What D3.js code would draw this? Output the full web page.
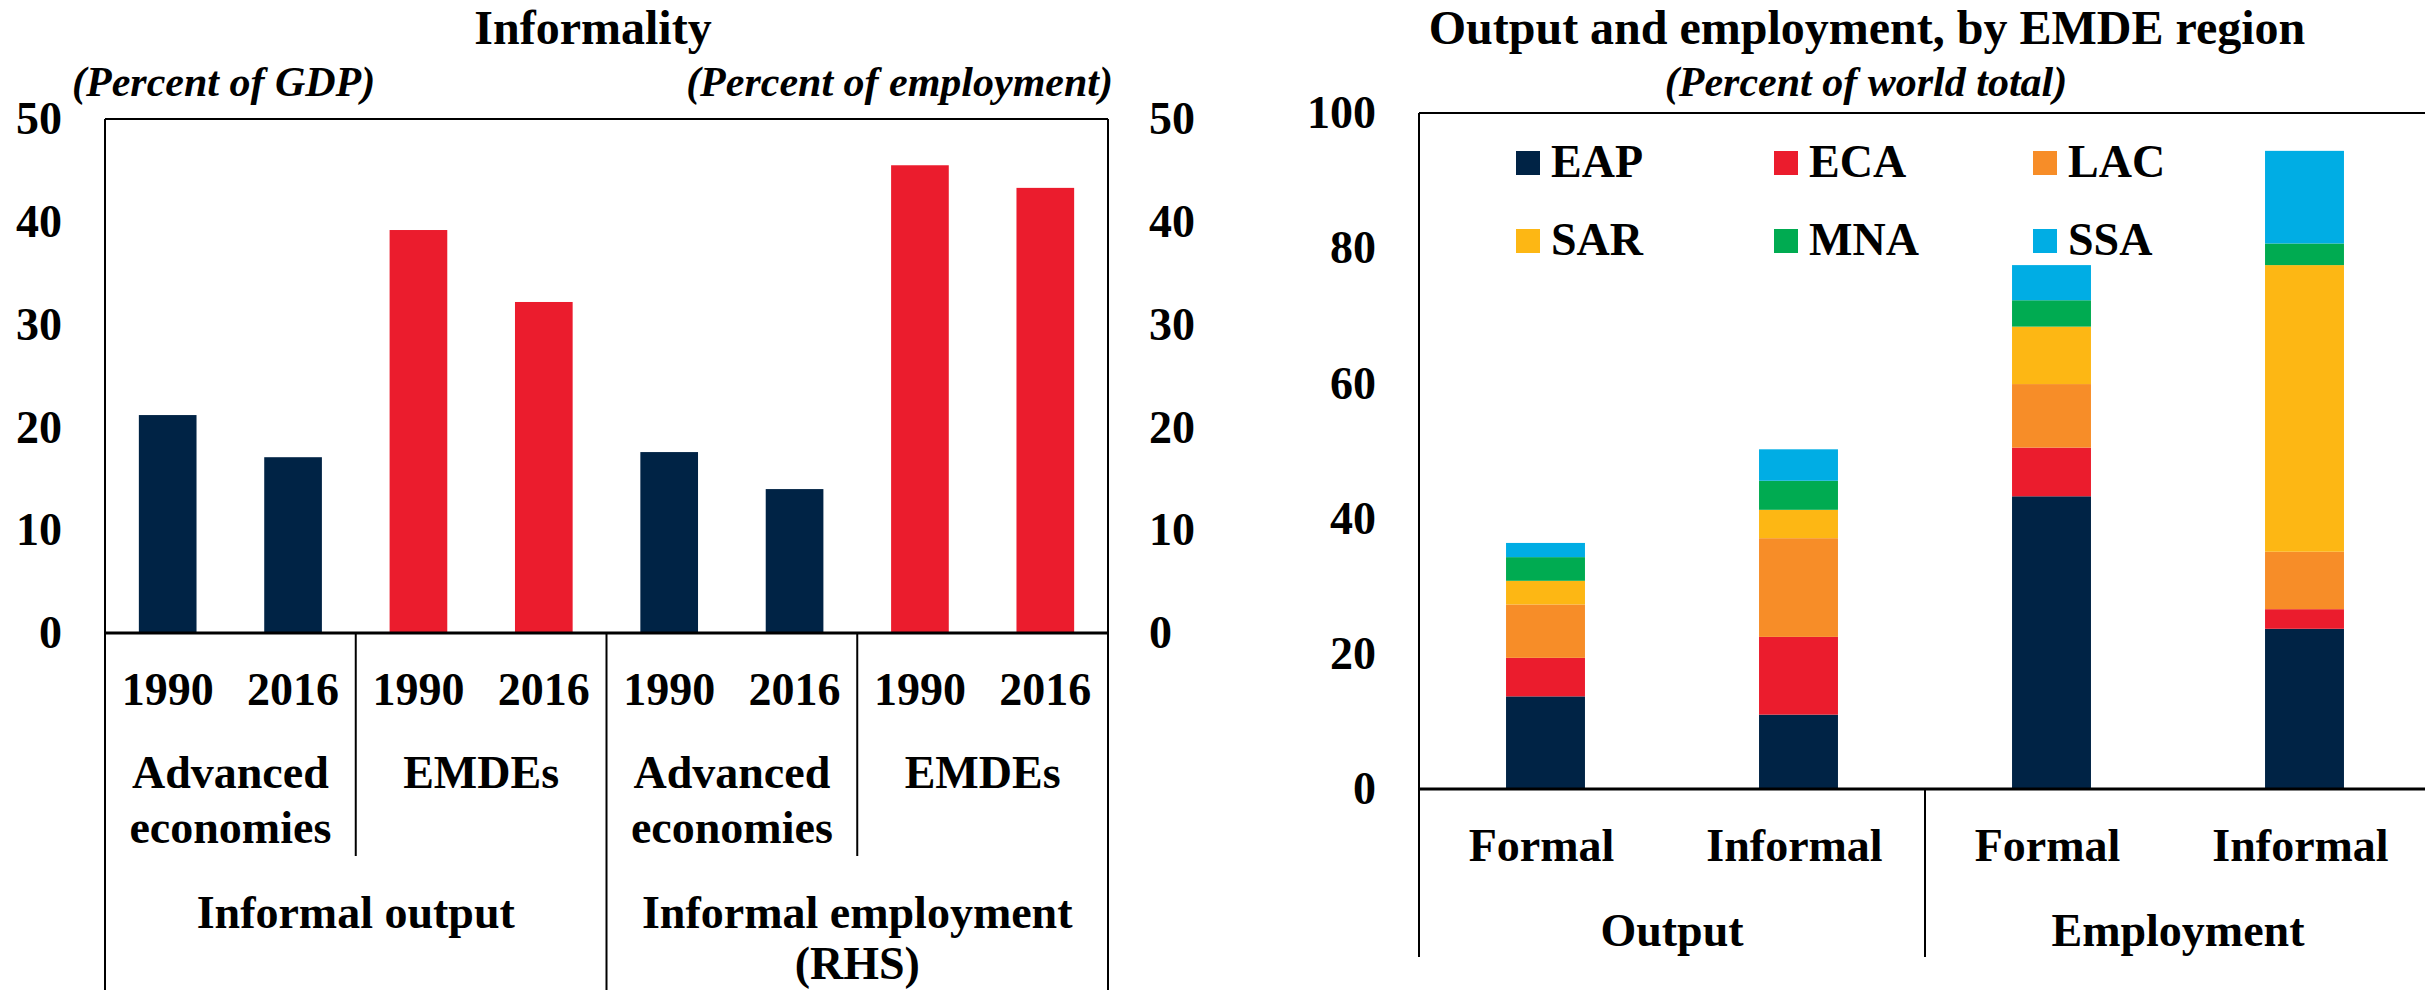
<!DOCTYPE html>
<html>
<head>
<meta charset="utf-8">
<script src="https://cdn.jsdelivr.net/npm/d3@7"></script>
<style>
  html, body { margin: 0; padding: 0; background: #fff; }
  svg { display: block; }
  text { font-family: "Liberation Serif", "Times New Roman", serif; font-weight: bold; fill: #000; }
</style>
</head>
<body>
<svg id="chart" width="2425" height="990"></svg>
<script>
// ---------- Data: left panel (Informality) ----------
const leftBarKeys = ["out-ae-1990", "out-ae-2016", "out-em-1990", "out-em-2016",
                     "emp-ae-1990", "emp-ae-2016", "emp-em-1990", "emp-em-2016"];
const leftYears = ["1990", "2016", "1990", "2016", "1990", "2016", "1990", "2016"];
const leftValues = [21.2, 17.1, 39.2, 32.2, 17.6, 14.0, 45.5, 43.3];
const leftBarGroup = ["ae", "ae", "em", "em", "ae", "ae", "em", "em"];
const leftSubGroups = [["Advanced", "economies"], ["EMDEs"], ["Advanced", "economies"], ["EMDEs"]];
const leftMainGroups = [["Informal output"], ["Informal employment", "(RHS)"]];
const leftTicks = [0, 10, 20, 30, 40, 50];

// ---------- Data: right panel (Output and employment, by EMDE region) ----------
const rightKeys = ["out-formal", "out-informal", "emp-formal", "emp-informal"];
const rightCategories = ["Formal", "Informal", "Formal", "Informal"];
const rightGroups = ["Output", "Employment"];
const regions = ["EAP", "ECA", "LAC", "SAR", "MNA", "SSA"];
const EAP = [13.7, 11.0, 43.3, 23.7];
const ECA = [5.7, 11.5, 7.2, 2.9];
const LAC = [7.9, 14.6, 9.4, 8.5];
const SAR = [3.5, 4.2, 8.5, 42.4];
const MNA = [3.5, 4.3, 3.9, 3.2];
const SSA = [2.1, 4.65, 5.2, 13.7];
const rightTicks = [0, 20, 40, 60, 80, 100];

const navy = "#002345", red = "#EB1C2D";
const regionColors = ["#002345", "#EB1C2D", "#F78D28", "#FDB714", "#00AB51", "#00ADE4"];

const svg = d3.select("#chart");

// ================= LEFT PANEL =================
const L = { left: 105, right: 1108, top: 119, base: 633 };
const xL = d3.scaleBand().domain(leftBarKeys).range([L.left, L.right])
  .paddingInner(0.54).paddingOuter(0.27);
const yL = d3.scaleLinear().domain([0, 50]).range([L.base, L.top]);

const gL = svg.append("g");

gL.selectAll("rect.bar").data(leftValues).join("rect")
  .attr("class", "bar")
  .attr("x", (d, i) => xL(leftBarKeys[i]))
  .attr("width", xL.bandwidth())
  .attr("y", d => yL(d))
  .attr("height", d => yL(0) - yL(d))
  .attr("fill", (d, i) => leftBarGroup[i] === "ae" ? navy : red);

// frame
gL.append("line").attr("x1", L.left).attr("x2", L.right).attr("y1", L.top).attr("y2", L.top)
  .attr("stroke", "#000").attr("stroke-width", 2);
gL.append("line").attr("x1", L.left).attr("x2", L.left).attr("y1", L.top).attr("y2", 990)
  .attr("stroke", "#000").attr("stroke-width", 2);
gL.append("line").attr("x1", L.right).attr("x2", L.right).attr("y1", L.top).attr("y2", 990)
  .attr("stroke", "#000").attr("stroke-width", 2);
gL.append("line").attr("x1", L.left).attr("x2", L.right).attr("y1", yL(0)).attr("y2", yL(0))
  .attr("stroke", "#000").attr("stroke-width", 3);

// separators below axis
const step = xL.step();
const midOut = xL(leftBarKeys[4]) - xL.paddingInner() * step / 2;
gL.append("line").attr("x1", midOut).attr("x2", midOut).attr("y1", yL(0)).attr("y2", 990)
  .attr("stroke", "#000").attr("stroke-width", 2);
[2, 6].forEach(i => {
  const x = xL(leftBarKeys[i]) - xL.paddingInner() * step / 2;
  gL.append("line").attr("x1", x).attr("x2", x).attr("y1", yL(0)).attr("y2", 856)
    .attr("stroke", "#000").attr("stroke-width", 2);
});

// axes
const axL = d3.axisLeft(yL).tickValues(leftTicks).tickSize(0).tickPadding(0);
const gAxL = gL.append("g").attr("transform", "translate(62,0)").call(axL);
gAxL.select(".domain").remove();
const axR = d3.axisRight(yL).tickValues(leftTicks).tickSize(0).tickPadding(0);
const gAxR = gL.append("g").attr("transform", "translate(1149,0)").call(axR);
gAxR.select(".domain").remove();
[gAxL, gAxR].forEach(g => g.selectAll("text")
  .attr("font-family", "Liberation Serif, Times New Roman, serif")
  .attr("font-weight", "bold").attr("font-size", 46).attr("fill", "#000"));

// year labels
gL.selectAll("text.year").data(leftYears).join("text")
  .attr("class", "year")
  .attr("x", (d, i) => xL(leftBarKeys[i]) + xL.bandwidth() / 2)
  .attr("y", 705).attr("text-anchor", "middle").attr("font-size", 46)
  .text(d => d);

// sub-group labels
leftSubGroups.forEach((lines, gi) => {
  const cx = (xL(leftBarKeys[gi * 2]) + xL(leftBarKeys[gi * 2 + 1]) + xL.bandwidth()) / 2;
  lines.forEach((t, li) => {
    gL.append("text").attr("x", cx).attr("y", 788 + li * 55)
      .attr("text-anchor", "middle").attr("font-size", 46).text(t);
  });
});
// main group labels
leftMainGroups.forEach((lines, gi) => {
  const cx = (xL(leftBarKeys[gi * 4]) + xL(leftBarKeys[gi * 4 + 3]) + xL.bandwidth()) / 2;
  lines.forEach((t, li) => {
    gL.append("text").attr("x", cx).attr("y", 928 + li * 51)
      .attr("text-anchor", "middle").attr("font-size", 46).text(t);
  });
});

// titles
svg.append("text").attr("x", 593).attr("y", 44).attr("text-anchor", "middle")
  .attr("font-size", 48).text("Informality");
svg.append("text").attr("x", 72).attr("y", 96).attr("text-anchor", "start")
  .attr("font-size", 42).attr("font-style", "italic").text("(Percent of GDP)");
svg.append("text").attr("x", 1113).attr("y", 96).attr("text-anchor", "end")
  .attr("font-size", 42).attr("font-style", "italic").text("(Percent of employment)");

// ================= RIGHT PANEL =================
const R = { left: 1419, right: 2431, top: 113, base: 789 };
const xR = d3.scaleBand().domain(rightKeys).range([R.left, R.right])
  .paddingInner(0.688).paddingOuter(0.344);
const yR = d3.scaleLinear().domain([0, 100]).range([R.base, R.top]);

const table = rightKeys.map((k, i) => ({
  key: k, EAP: EAP[i], ECA: ECA[i], LAC: LAC[i], SAR: SAR[i], MNA: MNA[i], SSA: SSA[i]
}));
const stacked = d3.stack().keys(regions)(table);

const gR = svg.append("g");
gR.selectAll("g.layer").data(stacked).join("g")
  .attr("class", "layer")
  .attr("fill", (d, i) => regionColors[i])
  .selectAll("rect").data(d => d).join("rect")
  .attr("x", d => xR(d.data.key))
  .attr("width", xR.bandwidth())
  .attr("y", d => yR(d[1]))
  .attr("height", d => yR(d[0]) - yR(d[1]));

// frame
gR.append("line").attr("x1", R.left).attr("x2", R.right).attr("y1", R.top).attr("y2", R.top)
  .attr("stroke", "#000").attr("stroke-width", 2);
gR.append("line").attr("x1", R.left).attr("x2", R.left).attr("y1", R.top).attr("y2", 957)
  .attr("stroke", "#000").attr("stroke-width", 2);
gR.append("line").attr("x1", R.left).attr("x2", R.right).attr("y1", yR(0)).attr("y2", yR(0))
  .attr("stroke", "#000").attr("stroke-width", 3);
const midR = xR(rightKeys[2]) - xR.paddingInner() * xR.step() / 2;
gR.append("line").attr("x1", midR).attr("x2", midR).attr("y1", yR(0)).attr("y2", 957)
  .attr("stroke", "#000").attr("stroke-width", 2);

// axis
const axRR = d3.axisLeft(yR).tickValues(rightTicks).tickSize(0).tickPadding(0);
const gAxRR = gR.append("g").attr("transform", "translate(1376,0)").call(axRR);
gAxRR.select(".domain").remove();
gAxRR.selectAll("text")
  .attr("font-family", "Liberation Serif, Times New Roman, serif")
  .attr("font-weight", "bold").attr("font-size", 46).attr("fill", "#000");

// category labels
gR.selectAll("text.cat").data(rightCategories).join("text")
  .attr("class", "cat")
  .attr("x", (d, i) => xR(rightKeys[i]) + xR.bandwidth() / 2 - 4)
  .attr("y", 861).attr("text-anchor", "middle").attr("font-size", 46)
  .text(d => d);
rightGroups.forEach((t, gi) => {
  const cx = (xR(rightKeys[gi * 2]) + xR(rightKeys[gi * 2 + 1]) + xR.bandwidth()) / 2;
  gR.append("text").attr("x", cx).attr("y", 946)
    .attr("text-anchor", "middle").attr("font-size", 46).text(t);
});

// legend
const legCols = [1516, 1774, 2033], legRows = [151, 229];
const leg = gR.selectAll("g.leg").data(regions).join("g")
  .attr("class", "leg")
  .attr("transform", (d, i) => `translate(${legCols[i % 3]},${legRows[Math.floor(i / 3)]})`);
leg.append("rect").attr("width", 24).attr("height", 24)
  .attr("fill", (d, i) => regionColors[i]);
leg.append("text").attr("x", 35).attr("y", 26).attr("font-size", 46).text(d => d);

// titles
svg.append("text").attr("x", 1867).attr("y", 44).attr("text-anchor", "middle")
  .attr("font-size", 48).text("Output and employment, by EMDE region");
svg.append("text").attr("x", 1866).attr("y", 96).attr("text-anchor", "middle")
  .attr("font-size", 42).attr("font-style", "italic").text("(Percent of world total)");
</script>
</body>
</html>
